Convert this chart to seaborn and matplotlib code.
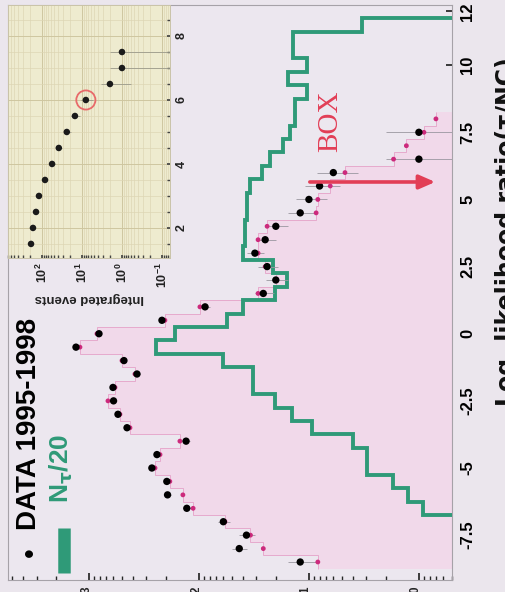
import numpy as np
import matplotlib
matplotlib.use("Agg")
import matplotlib.pyplot as plt
import seaborn as sns
from matplotlib.ticker import FixedLocator, LogLocator, NullFormatter, LogFormatterMathtext

# ---------------- data ----------------
# data points (bin centres of log likelihood ratio, events per bin)
llr_data = [-8.5, -8.0, -7.5, -7.0, -6.5, -6.0, -5.5, -5.0, -4.5, -4.0, -3.5, -3.0,
            -2.5, -2.0, -1.5, -1.0, -0.5, 0.0, 0.5, 1.0, 1.5, 2.0, 2.5, 3.0, 3.5,
            4.0, 4.5, 5.0, 5.5, 6.0, 6.5, 7.5]
data_events = [12, 43, 37, 60, 129, 193, 196, 268, 241, 131, 451, 545,
               598, 605, 366, 481, 1313, 811, 217, 88, 26, 20, 24, 31, 25,
               20, 12, 10, 8, 6, 1, 1]

# Monte Carlo expectation (shaded histogram)
mc_edges = [-8.75, -8.25, -7.75, -7.25, -6.75, -6.25, -5.75, -5.25, -4.75, -4.25,
            -3.75, -3.25, -2.75, -2.25, -1.75, -1.25, -0.75, -0.25, 0.25, 0.75,
            1.25, 1.75, 2.25, 2.75, 3.25, 3.75, 4.25, 4.75, 5.25, 5.75, 6.25,
            6.75, 7.25, 7.75, 8.25]
mc_centers = [-8.5, -8.0, -7.5, -7.0, -6.5, -6.0, -5.5, -5.0, -4.5, -4.0, -3.5,
              -3.0, -2.5, -2.0, -1.5, -1.0, -0.5, 0.0, 0.5, 1.0, 1.5, 2.0, 2.5,
              3.0, 3.5, 4.0, 4.5, 5.0, 5.5, 6.0, 6.5, 7.0, 7.5, 8.0]
mc_values = [8.3, 26, 34, 58, 113, 140, 184, 251, 226, 149, 424, 523, 672, 580,
             382, 501, 1208, 846, 204, 98, 29, 20, 25, 29, 29, 24, 8.6, 8.3, 6.4,
             4.7, 1.7, 1.3, 0.9, 0.7]

# N_tau / 20 histogram (green)
nt_edges = [-6.75, -6.25, -5.75, -5.25, -4.75, -4.25, -3.75, -3.25, -2.75, -2.25,
            -1.75, -1.25, -0.75, -0.25, 0.25, 0.75, 1.25, 1.75, 2.25, 2.75, 3.25,
            3.75, 4.25, 4.75, 5.25, 5.75, 6.25, 6.75, 7.25, 7.75, 8.25, 8.75,
            9.25, 9.75, 10.25, 10.75, 11.25, 11.75]
nt_values = [0.92, 1.26, 1.72, 2.97, 2.97, 3.98, 9.4, 14.3, 20.4, 32.3, 32.3, 60.5,
             246, 165, 55.6, 39.8, 20.4, 15.8, 21.2, 39.8, 38.2, 38.2, 36.6, 36.6,
             34.4, 26.7, 22.6, 17.2, 14.9, 13.4, 13.4, 10.4, 15.5, 10.4, 14.0,
             14.0, 3.3]

# inset: integrated events above cut
inset_cut = [1.5, 2.0, 2.5, 3.0, 3.5, 4.0, 4.5, 5.0, 5.5, 6.0, 6.5, 7.0, 7.5]
inset_events = [188, 168, 141, 119, 84, 56, 38, 24, 15, 8, 2, 1, 1]

main_yticks = [-7.5, -5, -2.5, 0, 2.5, 5, 7.5, 10, 12]
main_yticklabels = ["-7.5", "-5", "-2.5", "0", "2.5", "5", "7.5", "10", "12"]
inset_yticks = [2, 4, 6, 8]

# ---------------- style ----------------
sns.set_theme(style="white")
plt.rcParams["font.family"] = ["Liberation Sans", "DejaVu Sans"]

GREEN = "#2f9a78"
PINK_FILL = "#f1d9ea"
PINK_LINE = "#e6aacd"
MAGENTA = "#cc2a7c"
RED = "#e23e56"
BG = "#ebe6ed"

fig = plt.figure(figsize=(5.06, 5.92), dpi=100, facecolor=BG)
ax = fig.add_axes([8 / 506, 1 - 580 / 592, 444 / 506, 575 / 592])
ax.set_facecolor("#ece7ef")

ax.set_xscale("log")

# MC shaded histogram
ax.stairs(mc_values, mc_edges, orientation="horizontal", baseline=0.01,
          fill=True, color=PINK_FILL, zorder=1)
ax.stairs(mc_values, mc_edges, orientation="horizontal", baseline=None,
          color=PINK_LINE, lw=0.7, zorder=2)

# green N_tau/20 histogram
ax.stairs(nt_values, nt_edges, orientation="horizontal", baseline=0.01,
          color=GREEN, lw=2.8, zorder=3)

# data error bars
n = np.array(data_events, dtype=float)
lo = n - np.maximum(n - np.sqrt(n), 0.3)
hi = np.sqrt(n)
ax.errorbar(data_events, llr_data, xerr=[lo, hi], fmt="none",
            ecolor="#9a97a0", elinewidth=0.6, zorder=4)

# MC points
sns.scatterplot(x=mc_values, y=mc_centers, ax=ax, color=MAGENTA, s=12,
                edgecolor="none", zorder=5, legend=False)
# data points
sns.scatterplot(x=data_events, y=llr_data, ax=ax, color="black", s=28,
                edgecolor="none", zorder=6, legend=False)

ax.set_xlim(5450, 0.5)
ax.set_ylim(-9.17, 12.24)

# axes ticks
ax.yaxis.tick_right()
ax.yaxis.set_major_locator(FixedLocator(main_yticks))
ax.set_yticklabels(main_yticklabels, rotation=90, va="center",
                   fontsize=12, fontweight="bold")
ax.tick_params(axis="y", direction="in", length=4, pad=6, colors="#222222",
               labelcolor="black")
ax.xaxis.set_major_locator(LogLocator(base=10, numticks=10))
ax.xaxis.set_minor_locator(LogLocator(base=10, subs=np.arange(2, 10), numticks=20))
ax.xaxis.set_major_formatter(LogFormatterMathtext())
ax.xaxis.set_minor_formatter(NullFormatter())
ax.tick_params(axis="x", which="both", direction="in", bottom=True, pad=4)
ax.tick_params(axis="x", which="major", length=5)
ax.tick_params(axis="x", which="minor", length=3)
for lab in ax.get_xticklabels():
    lab.set_rotation(90)
    lab.set_fontsize(12)
    lab.set_fontweight("bold")

ax.yaxis.set_label_position("right")
ax.set_ylabel("Log. likelihood ratio(τ/NC)", rotation=90, fontsize=17,
              fontweight="bold", color="#111111", family=["DejaVu Sans"])
ax.yaxis.set_label_coords(1.096, 0.605)
ax.set_xlabel("")

for s in ax.spines.values():
    s.set_color("#a6a2a8")
    s.set_linewidth(0.8)

# legend (drawn as rotated text)
ax.text(0.052, 0.040, "•", transform=ax.transAxes, rotation=90, fontsize=20,
        ha="center", va="bottom", color="black")
ax.text(0.047, 0.087, "DATA 1995-1998", transform=ax.transAxes, rotation=90,
        fontsize=20, fontweight="bold", ha="center", va="bottom", color="black")
ax.plot([0.126, 0.126], [0.012, 0.09], transform=ax.transAxes, color=GREEN,
        lw=9, solid_capstyle="butt")
ax.text(0.119, 0.134, r"N$_{\mathbf{\tau}}$/20", transform=ax.transAxes, rotation=90,
        fontsize=19, fontweight="bold", ha="center", va="bottom", color=GREEN)

# BOX annotation
ax.text(0.725, 0.797, "BOX", transform=ax.transAxes, rotation=90,
        fontsize=21, family=["Liberation Serif", "DejaVu Serif"],
        ha="center", va="center", color=RED)
ax.annotate("", xy=(0.67, 5.65), xytext=(10.4, 5.65),
            arrowprops=dict(arrowstyle="-|>,head_length=0.8,head_width=0.35",
                            color=RED, lw=2.6), zorder=7)

# ---------------- inset ----------------
ins = fig.add_axes([8 / 506, 1 - 258 / 592, 162 / 506, 253 / 592])
ins.set_facecolor("#eeebcf")
ins.set_xscale("log")
ie = np.array(inset_events, dtype=float)
ilo = ie - np.maximum(ie - np.sqrt(ie), 0.03)
ins.errorbar(inset_events, inset_cut, xerr=[ilo, np.sqrt(ie)], fmt="none",
             ecolor="#9b9a8a", elinewidth=0.6, zorder=3)
sns.scatterplot(x=inset_events, y=inset_cut, ax=ins, color="#1a1a1a", s=22,
                edgecolor="none", zorder=4, legend=False)
ins.scatter([inset_events[9]], [inset_cut[9]], s=190, facecolor="none",
            edgecolor="#e86a6a", linewidth=1.3, zorder=5)
ins.set_xlim(708, 0.063)
ins.set_ylim(1.06, 8.97)
ins.xaxis.set_major_locator(FixedLocator([100, 10, 1, 0.1]))
ins.xaxis.set_minor_locator(LogLocator(base=10, subs=np.arange(2, 10), numticks=20))
ins.xaxis.set_major_formatter(LogFormatterMathtext())
ins.xaxis.set_minor_formatter(NullFormatter())
ins.yaxis.set_major_locator(FixedLocator(inset_yticks))
ins.yaxis.set_minor_locator(FixedLocator([1.5, 2.5, 3, 3.5, 4.5, 5, 5.5, 6.5, 7, 7.5, 8.5]))
ins.yaxis.tick_right()
ins.grid(True, which="major", color="#cfc6a0", lw=0.7)
ins.grid(True, which="minor", color="#ddd6b4", lw=0.5)
ins.tick_params(axis="both", which="both", direction="in", length=2,
                labelsize=9, colors="#444444", labelcolor="#222222")
ins.tick_params(axis="x", which="both", bottom=True, pad=3)
ins.tick_params(axis="y", which="both", right=True, pad=4)
for lab in ins.get_xticklabels():
    lab.set_rotation(90)
    lab.set_fontweight("bold")
for lab in ins.get_yticklabels():
    lab.set_rotation(90)
    lab.set_fontweight("bold")
    lab.set_va("center")
ins.set_xlabel("Integrated events", rotation=180, fontsize=9.5,
               fontweight="bold", color="#222222", labelpad=3)
ins.set_ylabel("")
for s in ins.spines.values():
    s.set_color("#c9c3a8")
    s.set_linewidth(0.7)

fig.savefig("out.png", dpi=100, facecolor=BG)
